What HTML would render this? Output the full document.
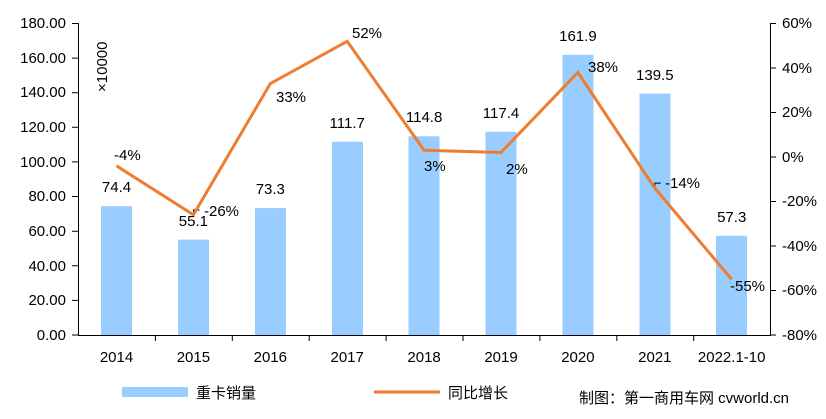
<!DOCTYPE html>
<html><head><meta charset="utf-8"><style>
body{margin:0;background:#fff}
text{font-family:"Liberation Sans","Noto Sans CJK SC",sans-serif;font-size:15px;fill:#000}
</style></head><body>
<svg width="826" height="414" xmlns="http://www.w3.org/2000/svg">
<g fill="#99ccff">
<rect x="101" y="206.2" width="31" height="128.8"/>
<rect x="178" y="239.6" width="31" height="95.4"/>
<rect x="255" y="208.1" width="31" height="126.9"/>
<rect x="332" y="141.7" width="31" height="193.3"/>
<rect x="408.5" y="136.3" width="31" height="198.7"/>
<rect x="485.5" y="131.8" width="31" height="203.2"/>
<rect x="562.5" y="54.8" width="31" height="280.2"/>
<rect x="639.5" y="93.6" width="31" height="241.4"/>
<rect x="716" y="235.8" width="31" height="99.2"/>
</g>
<g stroke="#000" stroke-width="1" fill="none">
<line x1="78.5" y1="23" x2="78.5" y2="335"/>
<line x1="770.5" y1="23" x2="770.5" y2="335"/>
<line x1="78" y1="335.5" x2="771" y2="335.5"/>
<path d="M72 23.5h6M72 58.1h6M72 92.7h6M72 127.3h6M72 161.9h6M72 196.5h6M72 231.2h6M72 265.8h6M72 300.4h6M72 335h6"/>
<path d="M770 23.5h6M770 68h6M770 112.5h6M770 157h6M770 201.5h6M770 246h6M770 290.5h6M770 335h6"/>
<path d="M155.4 335v6M232.3 335v6M309.2 335v6M386.1 335v6M463 335v6M539.9 335v6M616.8 335v6M693.7 335v6"/>
<path d="M193.5 214v-4h6M654.8 188.1v-5h6"/>
</g>
<polyline fill="none" stroke="#ed7d31" stroke-width="3" points="116.5,165.9 193.4,214.8 270.3,83.6 347.2,41.3 424.1,150.3 501,152.5 577.9,72.4 654.8,188.1 731.7,279.4"/>
<g text-anchor="end">
<text x="66" y="28">180.00</text><text x="66" y="63">160.00</text><text x="66" y="97">140.00</text><text x="66" y="132">120.00</text><text x="66" y="167">100.00</text><text x="66" y="201">80.00</text><text x="66" y="236">60.00</text><text x="66" y="271">40.00</text><text x="66" y="305">20.00</text><text x="66" y="340">0.00</text>
</g>
<g>
<text x="782" y="28">60%</text><text x="782" y="73">40%</text><text x="782" y="117">20%</text><text x="782" y="162">0%</text><text x="782" y="206">-20%</text><text x="782" y="251">-40%</text><text x="782" y="295">-60%</text><text x="782" y="340">-80%</text>
</g>
<g text-anchor="middle">
<text x="116.5" y="362">2014</text><text x="193.4" y="362">2015</text><text x="270.3" y="362">2016</text><text x="347.2" y="362">2017</text><text x="424.1" y="362">2018</text><text x="501" y="362">2019</text><text x="577.9" y="362">2020</text><text x="654.8" y="362">2021</text><text x="731.7" y="362">2022.1-10</text>
<text x="116.5" y="192">74.4</text><text x="193.4" y="226">55.1</text><text x="270.3" y="194">73.3</text><text x="347.2" y="128">111.7</text><text x="424.1" y="122">114.8</text><text x="501" y="118">117.4</text><text x="577.9" y="41">161.9</text><text x="654.8" y="80">139.5</text><text x="731.7" y="222">57.3</text>
</g>
<g>
<text x="114" y="160">-4%</text><text x="204" y="216">-26%</text><text x="276" y="102">33%</text><text x="352" y="38">52%</text><text x="424" y="171">3%</text><text x="506" y="174">2%</text><text x="588" y="72">38%</text><text x="665" y="188">-14%</text><text x="730" y="291">-55%</text>
</g>
<text transform="translate(107,92) rotate(-90)">×10000</text>
<rect x="122" y="387" width="66" height="10" fill="#99ccff"/>
<text x="196" y="398">重卡销量</text>
<line x1="374" y1="392" x2="440" y2="392" stroke="#ed7d31" stroke-width="3"/>
<text x="448" y="398">同比增长</text>
<text x="579" y="403">制图：第一商用车网 cvworld.cn</text>
</svg>
</body></html>
